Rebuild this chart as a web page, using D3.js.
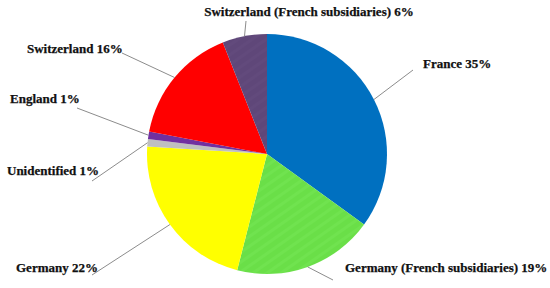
<!DOCTYPE html>
<html>
<head>
<meta charset="utf-8">
<script src="https://cdn.jsdelivr.net/npm/d3@7"></script>
<style>
  body { margin: 0; background: #fff; }
  svg { display: block; }
  .lbl { font-family: "Liberation Serif", "Times New Roman", serif; font-weight: bold; font-size: 13px; fill: #111; stroke: #111; stroke-width: 0.25px; }
</style>
</head>
<body>
<svg id="chart" width="550" height="288"></svg>
<script>
// data
var categories = ["France", "Germany (French subsidiaries)", "Germany", "Unidentified", "England", "Switzerland", "Switzerland (French subsidiaries)"];
var values = [35, 19, 22, 1, 1, 16, 6];
var colors = ["#0070C0", "url(#stripeGreen)", "#FFFF00", "#BFBFBF", "#7030A0", "#FF0000", "url(#stripePurple)"];

// label layout: text anchor point, text-anchor, leader line end
var labelPos = [
  { x: 423, y: 68, anchor: "start", lx: 413, ly: 70 },
  { x: 345, y: 272, anchor: "start", lx: 333, ly: 280 },
  { x: 16, y: 272, anchor: "start", lx: 92, ly: 275 },
  { x: 7, y: 175, anchor: "start", lx: 92, ly: 181 },
  { x: 10, y: 103, anchor: "start", lx: 77, ly: 108 },
  { x: 27, y: 53, anchor: "start", lx: 122, ly: 53 },
  { x: 309, y: 16, anchor: "middle", lx: 246, ly: 21 }
];

var svg = d3.select("#chart");
var cx = 267, cy = 154, r = 120;

// very subtle stripe patterns
var defs = svg.append("defs");
function stripes(id, base, stripe) {
  var p = defs.append("pattern")
    .attr("id", id)
    .attr("patternUnits", "userSpaceOnUse")
    .attr("width", 8).attr("height", 8)
    .attr("patternTransform", "rotate(-35)");
  p.append("rect").attr("width", 8).attr("height", 8).attr("fill", base);
  p.append("rect").attr("width", 8).attr("height", 3).attr("fill", stripe);
}
stripes("stripeGreen", "#6ADF48", "#70E34F");
stripes("stripePurple", "#5F4779", "#624A7C");

var data = categories.map(function (c, i) { return { name: c, value: values[i], i: i }; });

var pie = d3.pie().sort(null).value(function (d) { return d.value; });
var arcs = pie(data);
var arc = d3.arc().innerRadius(0).outerRadius(r);

var g = svg.append("g").attr("transform", "translate(" + cx + "," + cy + ")");

g.selectAll("path.slice")
  .data(arcs)
  .enter().append("path")
  .attr("class", "slice")
  .attr("d", arc)
  .attr("fill", function (d) { return colors[d.data.i]; });

// leader lines from the slice edge midpoint to the label
svg.selectAll("line.leader")
  .data(arcs)
  .enter().append("line")
  .attr("class", "leader")
  .attr("x1", function (d) { var a = (d.startAngle + d.endAngle) / 2; return cx + r * Math.sin(a); })
  .attr("y1", function (d) { var a = (d.startAngle + d.endAngle) / 2; return cy - r * Math.cos(a); })
  .attr("x2", function (d) { return labelPos[d.data.i].lx; })
  .attr("y2", function (d) { return labelPos[d.data.i].ly; })
  .attr("stroke", "#8C8C8C")
  .attr("stroke-width", 1);

svg.selectAll("text.lbl")
  .data(arcs)
  .enter().append("text")
  .attr("class", "lbl")
  .attr("x", function (d) { return labelPos[d.data.i].x; })
  .attr("y", function (d) { return labelPos[d.data.i].y; })
  .attr("text-anchor", function (d) { return labelPos[d.data.i].anchor; })
  .text(function (d) { return d.data.name + " " + d.data.value + "%"; });
</script>
</body>
</html>
